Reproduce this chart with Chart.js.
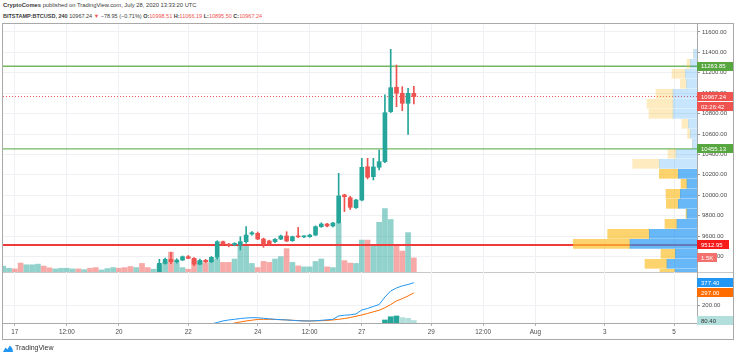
<!DOCTYPE html>
<html>
<head>
<meta charset="utf-8">
<script src="https://cdn.jsdelivr.net/npm/chart.js@4.4.0/dist/chart.umd.min.js"></script>
<style>
  html, body { margin: 0; padding: 0; background: #fff; width: 736px; height: 359px; overflow: hidden;
    font-family: 'Liberation Sans', Arial, sans-serif; }
  .hdr { position: absolute; left: 3px; font-size: 5.8px; line-height: 7px; color: #3a3a3a; white-space: nowrap; }
  #hdr1 { top: 1.5px; }
  #hdr2 { top: 12.5px; font-size: 5.5px; }
  .b { font-weight: bold; }
  .r { color: #ef5350; }
  #frame { position: absolute; left: 2px; top: 23px; width: 732px; height: 317px; box-sizing: border-box; border: 1px solid #a9a9a9; }
  #sep { position: absolute; left: 3px; top: 272px; width: 730px; height: 1px; background: #c8c8c8; }
  canvas { position: absolute; }
  #main { left: 3px; top: 24px; }
  #profile { left: 3px; top: 24px; }
  #macd { left: 3px; top: 272px; }
  #logo { position: absolute; left: 3px; top: 344px; font-size: 7px; color: #333; white-space: nowrap; }
  #logo svg { vertical-align: middle; margin-right: 2px; }
</style>
</head>
<body>
<div class="hdr" id="hdr1"><span class="b">CryptoComes</span> published on TradingView.com, July 28, 2020 13:33:20 UTC</div>
<div class="hdr" id="hdr2"><span class="b">BITSTAMP:BTCUSD, 240</span> 10967.24 <span class="r">▼</span> −78.95 (−0.71%) <span class="b">O:</span><span class="r">10998.51</span> <span class="b">H:</span><span class="r">11066.19</span> <span class="b">L:</span><span class="r">10895.50</span> <span class="b">C:</span><span class="r">10967.24</span></div>
<div id="frame"></div>
<canvas id="main" width="730" height="248"></canvas>
<canvas id="profile" width="694" height="248"></canvas>
<div id="sep"></div>
<canvas id="macd" width="730" height="67"></canvas>
<div id="logo"><svg width="10" height="7" viewBox="0 0 10 7"><path d="M0 7 L2.5 2.5 L4.5 4.5 L6.5 0.8 Q9.5 1.5 10 7 Z" fill="#2196f3"/></svg>TradingView</div>
<script>
// 4h candles, Jul 16 16:00 UTC .. Jul 28 12:00 UTC (x in "day of July")
const firstCandleDay = 16 + 16 / 24;
const candleStep = 4 / 24;

const opens = [
  9105, 9125, 9135, 9110, 9075, 9130, 9160, 9185, 9150, 9135,
  9155, 9170, 9180, 9190, 9178, 9195, 9185, 9160, 9175, 9190,
  9205, 9190, 9170, 9150, 9175, 9150, 9140, 9170, 9333, 9372,
  9349, 9365, 9398, 9382, 9325, 9362, 9349, 9392, 9545, 9522,
  9516, 9512, 9545, 9620, 9627, 9571, 9552, 9545, 9571, 9601,
  9555, 9600, 9592, 9594, 9610, 9692, 9718, 9699, 9731, 10003,
  9976, 9878, 9953, 10280, 10182, 10274, 10329, 10819, 11058, 10999,
  10901, 10998.51
];
const highs = [
  9140, 9150, 9145, 9120, 9140, 9170, 9200, 9195, 9160, 9165,
  9180, 9190, 9200, 9195, 9200, 9205, 9190, 9180, 9195, 9215,
  9210, 9195, 9175, 9180, 9180, 9160, 9175, 9372, 9385, 9440,
  9378, 9405, 9410, 9390, 9375, 9372, 9400, 9555, 9550, 9528,
  9535, 9594, 9692, 9645, 9640, 9580, 9560, 9575, 9610, 9643,
  9600, 9685, 9605, 9618, 9700, 9730, 9725, 9735, 10215, 10010,
  9990, 9960, 10362, 10362, 10362, 10443, 10983, 11430, 11276, 11064,
  11048, 11066.19
];
const lows = [
  9090, 9110, 9100, 9050, 9070, 9120, 9150, 9140, 9120, 9130,
  9150, 9160, 9170, 9170, 9175, 9180, 9150, 9155, 9170, 9185,
  9180, 9165, 9140, 9145, 9130, 9135, 9135, 9160, 9325, 9330,
  9335, 9360, 9378, 9310, 9318, 9340, 9340, 9375, 9515, 9495,
  9505, 9463, 9530, 9610, 9565, 9490, 9510, 9535, 9565, 9545,
  9548, 9585, 9585, 9588, 9605, 9685, 9690, 9690, 9725, 9840,
  9860, 9870, 9945, 10160, 10150, 10248, 10320, 10810, 10868, 10829,
  10597, 10895.50
];
const closes = [
  9125, 9135, 9110, 9075, 9130, 9160, 9185, 9150, 9135, 9155,
  9170, 9180, 9190, 9178, 9195, 9185, 9160, 9175, 9190, 9205,
  9190, 9170, 9150, 9175, 9145, 9140, 9170, 9333, 9372, 9349,
  9365, 9398, 9382, 9325, 9362, 9349, 9392, 9545, 9522, 9506,
  9528, 9545, 9610, 9633, 9571, 9522, 9522, 9568, 9601, 9552,
  9594, 9592, 9596, 9610, 9692, 9718, 9699, 9728, 9993, 9986,
  9882, 9953, 10274, 10176, 10277, 10329, 10809, 11054, 10999, 10901,
  10999, 10967.24
];
const volumes = [
  610, 390, 320, 930, 750, 750, 820, 610, 430, 320,
  390, 390, 320, 320, 250, 390, 460, 215, 355, 460,
  390, 460, 570, 460, 890, 460, 290, 750, 1000, 2070,
  1070, 460, 290, 1280, 1100, 960, 1280, 1400, 1000, 1000,
  1350, 2890, 2890, 890, 460, 1100, 1000, 1350, 1600, 2430,
  1000, 640, 535, 535, 1100, 1350, 535, 460, 5100, 1180,
  930, 890, 3320, 3320, 2675, 5170, 6600, 5460, 2675, 2175,
  4100, 1465
];

// MACD (12,26,9) - only the visible part of the pane was readable
const macdFrom = 34;
const macdLine = [37, 45, 53, 65, 77, 85, 90, 96, 100, 103, 102, 98, 94, 90, 87, 85, 82, 79, 77, 77,
  79, 82, 86, 90, 116, 122, 125, 132, 163, 175, 191, 206, 265, 312, 336, 352, 363, 377.40];
const signalLine = [18, 24, 29, 33, 37, 49, 61, 69, 77, 83, 89, 90, 90, 89, 87, 85, 82, 80, 78, 77,
  78, 79, 81, 85, 90, 96, 104, 114, 124, 136, 149, 161, 181, 206, 234, 252, 273, 297.00];
const histFrom = 66;
const histValues = [84.6, 110, 116, 103, 98, 80.40];

// horizontal levels
const greenLevels = [11263.85, 10455.13];
const redLevel = 9512.95;
const lastPrice = 10967.24;
const countdown = '02:26:42';
const lastVolumeLabel = '1.5K';

// visible volume profile (rows of ~98 USD)
const vpPrices = [9230, 9328, 9426, 9524, 9622, 9720, 9818, 9916, 10014, 10112, 10210, 10308,
  10406, 10504, 10602, 10700, 10798, 10896, 10994, 11092, 11190, 11288, 11386];
const vpUp = [2200, 3000, 2170, 6700, 4770, 2000, 1000, 1870, 1670, 1000, 1870, 3770,
  2100, 470, 670, 870, 2400, 2400, 2400, 1070, 1170, 670, 340];
const vpDown = [1500, 2200, 1430, 5670, 4160, 1200, 100, 1200, 1430, 600, 1900, 2660,
  800, 0, 270, 630, 2400, 2600, 1700, 600, 1330, 330, 0];
const vpValueAreaTop = 10210;

// axes
const priceTicks = [9400, 9600, 9800, 10000, 10200, 10400, 10600, 10800, 11000, 11200, 11400, 11600];
const macdTicks = [200];
const timeTickDays = [17, 18.5, 20, 22, 24, 25.5, 27, 29, 30.5, 32, 34, 36];
const timeTickLabels = ['17', '12:00', '20', '22', '24', '12:00', '27', '29', '12:00', 'Aug', '3', '5'];

const X_MIN = 16.66, X_MAX = 36.66;
const P_MIN = 9248, P_MAX = 11678;
const VOL_MAX = 25800;
const M_MIN = 61, M_MAX = 461;
const VP_MAX = 69400;

const UP = '#26a69a', DOWN = '#ef5350';
const GRID = '#eef0f4';
const AXIS_TEXT = '#4a4a4a';
const FONT = "'Liberation Sans', Arial, sans-serif";

Chart.defaults.font.family = FONT;
Chart.defaults.font.size = 6;

const times = opens.map((_, i) => firstCandleDay + i * candleStep);
const isUp = closes.map((c, i) => c >= opens[i]);

// keep the plot area flush with the canvas edges (no room reserved for edge labels)
const noPadY = w => s => { s.width = w; s.paddingTop = 0; s.paddingBottom = 0; };
const noPadX = h => s => { s.height = h; s.paddingLeft = 0; s.paddingRight = 0; };

function drawTag(ctx, x, y, w, bg, fg, text) {
  ctx.save();
  ctx.fillStyle = bg;
  ctx.fillRect(x, Math.round(y - 4.5), w, 9);
  ctx.fillStyle = fg;
  ctx.font = '6px ' + FONT;
  ctx.textBaseline = 'middle';
  ctx.textAlign = 'left';
  ctx.fillText(text, x + 4, y + 0.5);
  ctx.restore();
}

const priceTags = {
  id: 'priceTags',
  afterDraw(chart) {
    const ctx = chart.ctx, y = chart.scales.y, v = chart.scales.vol;
    const x = chart.chartArea.right;
    greenLevels.forEach(p => drawTag(ctx, x, y.getPixelForValue(p), 36, '#58a640', '#fff', p.toFixed(2)));
    drawTag(ctx, x, y.getPixelForValue(redLevel), 32, '#f71b1b', '#fff', redLevel.toFixed(2));
    const ly = y.getPixelForValue(lastPrice);
    drawTag(ctx, x, ly, 36, '#ef5350', '#fff', lastPrice.toFixed(2));
    drawTag(ctx, x, ly + 10, 36, '#ef5350', '#fff', countdown);
    drawTag(ctx, x, v.getPixelForValue(volumes[volumes.length - 1]), 20, '#f2716e', '#fff', lastVolumeLabel);
  }
};

const level = (val, color, width, dash) => ({
  type: 'line',
  data: [{ x: X_MIN, y: val }, { x: X_MAX, y: val }],
  borderColor: color, borderWidth: width, borderDash: dash || [],
  pointRadius: 0, yAxisID: 'y'
});

new Chart(document.getElementById('main'), {
  type: 'bar',
  data: {
    datasets: [
      {
        data: times.map((t, i) => ({ x: t, y: [opens[i], closes[i]] })),
        backgroundColor: isUp.map(u => u ? UP : DOWN),
        barThickness: 4, minBarLength: 1, grouped: false, yAxisID: 'y'
      },
      {
        data: times.map((t, i) => ({ x: t, y: [lows[i], highs[i]] })),
        backgroundColor: isUp.map(u => u ? UP : DOWN),
        barThickness: 1, grouped: false, yAxisID: 'y'
      },
      level(lastPrice, '#ef5350', 1, [1, 2]),
      ...greenLevels.map(p => level(p, '#72b860', 1.3)),
      level(redLevel, '#ee3b3b', 2),
      {
        data: times.map((t, i) => ({ x: t, y: volumes[i] })),
        backgroundColor: isUp.map(u => u ? 'rgba(38,166,154,0.5)' : 'rgba(239,83,80,0.5)'),
        barThickness: 5, grouped: false, yAxisID: 'vol'
      }
    ]
  },
  options: {
    responsive: false, animation: false, events: [],
    layout: { padding: 0 },
    plugins: { legend: { display: false }, tooltip: { enabled: false } },
    scales: {
      x: {
        type: 'linear', min: X_MIN, max: X_MAX, offset: false,
        afterBuildTicks: s => { s.ticks = timeTickDays.map(v => ({ value: v })); },
        ticks: { display: false },
        grid: { color: GRID, drawTicks: false, offset: false },
        border: { display: false },
        afterFit: noPadX(0)
      },
      y: {
        position: 'right', min: P_MIN, max: P_MAX, beginAtZero: false,
        afterBuildTicks: s => { s.ticks = priceTicks.map(v => ({ value: v })); },
        ticks: { callback: v => v.toFixed(2), color: AXIS_TEXT, padding: 2, font: { size: 6 } },
        grid: { color: GRID, tickLength: 3, tickColor: '#9a9a9a' },
        border: { display: true, color: '#a9a9a9' },
        afterFit: noPadY(36)
      },
      vol: { axis: 'y', display: false, min: 0, max: VOL_MAX }
    }
  },
  plugins: [priceTags]
});

new Chart(document.getElementById('profile'), {
  type: 'bar',
  data: {
    datasets: [
      {
        data: vpPrices.map((p, i) => ({ y: p, x: [0, vpUp[i]] })),
        backgroundColor: vpPrices.map(p => p <= vpValueAreaTop ? 'rgba(33,150,243,0.68)' : 'rgba(33,150,243,0.25)'),
        barThickness: 9, grouped: false
      },
      {
        data: vpPrices.map((p, i) => ({ y: p, x: [vpUp[i], vpUp[i] + vpDown[i]] })),
        backgroundColor: vpPrices.map(p => p <= vpValueAreaTop ? 'rgba(251,192,45,0.7)' : 'rgba(251,192,45,0.3)'),
        barThickness: 9, grouped: false
      }
    ]
  },
  options: {
    indexAxis: 'y',
    responsive: false, animation: false, events: [],
    layout: { padding: 0 },
    plugins: { legend: { display: false }, tooltip: { enabled: false } },
    scales: {
      x: { type: 'linear', display: false, reverse: true, min: 0, max: VP_MAX },
      y: { type: 'linear', display: false, min: P_MIN, max: P_MAX, offset: false }
    }
  }
});

const macdTags = {
  id: 'macdTags',
  afterDraw(chart) {
    const ctx = chart.ctx, y = chart.scales.y, x = chart.chartArea.right;
    const m = macdLine[macdLine.length - 1], s = signalLine[signalLine.length - 1], h = histValues[histValues.length - 1];
    drawTag(ctx, x, y.getPixelForValue(m), 36, '#2196f3', '#fff', m.toFixed(2));
    drawTag(ctx, x, y.getPixelForValue(s), 36, '#ff6d00', '#fff', s.toFixed(2));
    drawTag(ctx, x, y.getPixelForValue(h), 36, '#b2dfdb', '#333', h.toFixed(2));
  }
};

new Chart(document.getElementById('macd'), {
  type: 'bar',
  data: {
    datasets: [
      {
        type: 'line',
        data: macdLine.map((v, i) => ({ x: times[macdFrom + i], y: v })),
        borderColor: '#2196f3', borderWidth: 1, pointRadius: 0
      },
      {
        type: 'line',
        data: signalLine.map((v, i) => ({ x: times[macdFrom + i], y: v })),
        borderColor: '#ff6d00', borderWidth: 1, pointRadius: 0
      },
      {
        data: histValues.map((v, i) => ({ x: times[histFrom + i], y: v })),
        backgroundColor: histValues.map((v, i) => (i === 0 || v >= histValues[i - 1]) ? UP : '#b2dfdb'),
        barThickness: 5, grouped: false
      }
    ]
  },
  options: {
    responsive: false, animation: false, events: [],
    layout: { padding: 0 },
    plugins: { legend: { display: false }, tooltip: { enabled: false } },
    scales: {
      x: {
        type: 'linear', min: X_MIN, max: X_MAX, offset: false,
        afterBuildTicks: s => { s.ticks = timeTickDays.map(v => ({ value: v })); },
        ticks: { callback: (v, i) => timeTickLabels[i], color: AXIS_TEXT, autoSkip: false, maxRotation: 0, padding: 2, font: { size: 6.3 } },
        grid: { color: GRID, tickLength: 3, tickColor: '#b0b0b0', offset: false },
        border: { display: true, color: '#a9a9a9' },
        afterFit: noPadX(16)
      },
      y: {
        position: 'right', min: M_MIN, max: M_MAX, beginAtZero: false,
        afterBuildTicks: s => { s.ticks = macdTicks.map(v => ({ value: v })); },
        ticks: { callback: v => v.toFixed(2), color: AXIS_TEXT, padding: 2, font: { size: 6 } },
        grid: { color: GRID, tickLength: 3, tickColor: '#9a9a9a' },
        border: { display: true, color: '#a9a9a9' },
        afterFit: noPadY(36)
      }
    }
  },
  plugins: [macdTags]
});
</script>
</body>
</html>
